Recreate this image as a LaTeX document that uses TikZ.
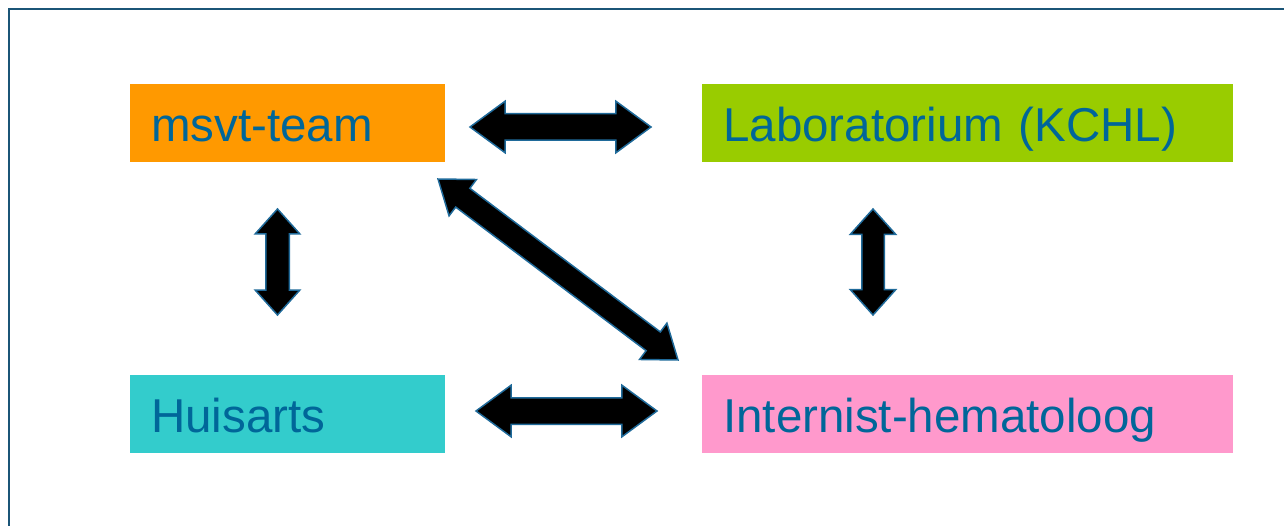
\documentclass[tikz,border=0pt]{standalone}
\usepackage{fontspec}
\setmainfont{Liberation Sans}
\usetikzlibrary{shapes.arrows,calc}
\definecolor{framecol}{RGB}{27,85,119}
\definecolor{txtcol}{RGB}{0,102,153}
\definecolor{arrline}{RGB}{31,106,154}
\definecolor{orangebox}{HTML}{FF9900}
\definecolor{greenbox}{HTML}{99CC00}
\definecolor{cyanbox}{HTML}{33CCCC}
\definecolor{pinkbox}{HTML}{FF99CC}
% #1 start, #2 end, #3 half shaft width, #4 head extend, #5 tip angle
\newcommand\dblarrow[5]{%
  \path let \p1=(#1), \p2=(#2),
    \n1={atan2(\y2-\y1,\x2-\x1)}, \n2={veclen(\x2-\x1,\y2-\y1)} in
    node[dblarr, rotate=\n1, minimum height=\n2, inner ysep=#3,
      double arrow head extend=#4, double arrow tip angle=#5]
    at ($(\p1)!0.5!(\p2)$) {};}
\begin{document}
\begin{tikzpicture}[x=1pt,y=-1pt,
  box/.style={rectangle, anchor=north west, inner xsep=21pt, inner ysep=0pt,
    text height=57pt, text depth=21pt, minimum height=78pt, align=left,
    font=\fontsize{47.5}{57}\selectfont, text=txtcol},
  dblarr/.style={double arrow, draw=arrline, fill=black, line width=1.5pt,
    inner xsep=0pt, outer sep=0pt}]
\useasboundingbox (0,0) rectangle (1284,526);
\draw[framecol, line width=2.5pt] (9,526) -- (9,9) -- (1284,9);

\node[box, fill=orangebox, text width=273pt] (msvt) at (130,84) {msvt-team};
\node[box, fill=greenbox, text width=489pt] (lab) at (702,84) {Laboratorium (KCHL)};
\node[box, fill=cyanbox, text width=273pt] (huis) at (130,375) {Huisarts};
\node[box, fill=pinkbox, text width=489pt] (intern) at (702,375) {Internist-hematoloog};

\coordinate (t1) at (470,127);  \coordinate (t2) at (651,127);
\coordinate (b1) at (476,411);  \coordinate (b2) at (657,411);
\coordinate (l1) at (277.5,209); \coordinate (l2) at (277.5,315);
\coordinate (r1) at (873,209);  \coordinate (r2) at (873,315);
\coordinate (d1) at (438,179);  \coordinate (d2) at (678,360);

\dblarrow{t1}{t2}{12.5pt}{12.5pt}{72.6}
\dblarrow{b1}{b2}{12.5pt}{12.5pt}{72.6}
\dblarrow{l1}{l2}{11pt}{10.5pt}{83.7}
\dblarrow{r1}{r2}{10.5pt}{11.5pt}{83.7}
\dblarrow{d1}{d2}{11pt}{11pt}{72.5}
\end{tikzpicture}
\end{document}
